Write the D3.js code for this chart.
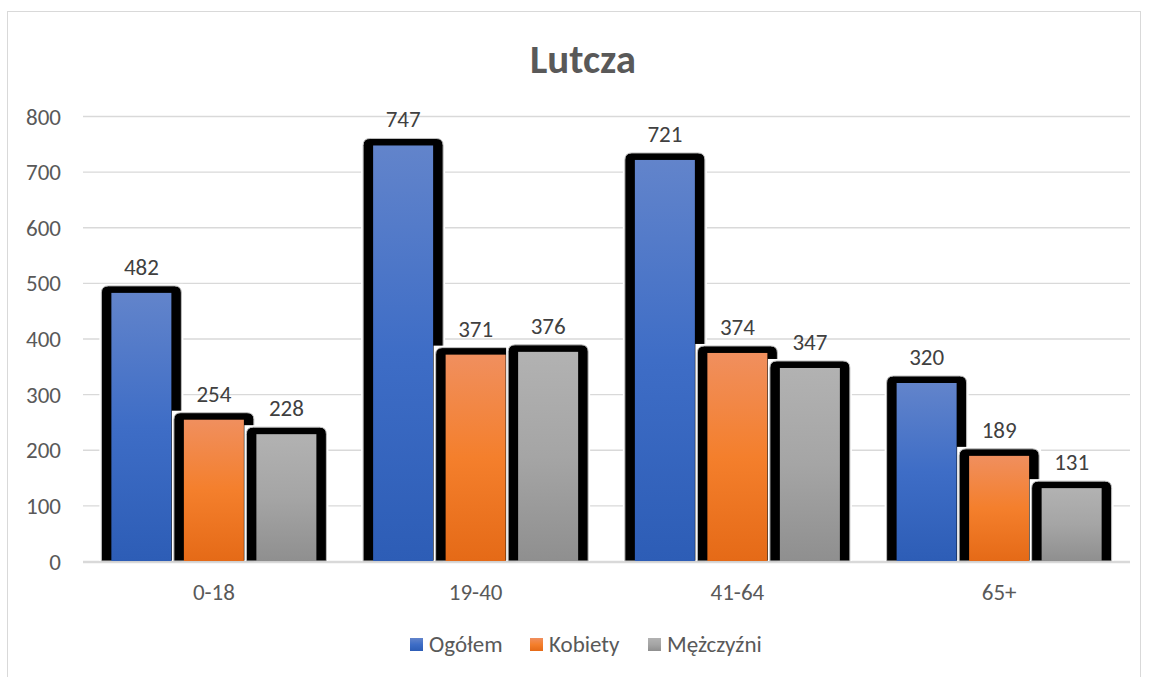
<!DOCTYPE html>
<html><head><meta charset="utf-8">
<script src="https://cdn.jsdelivr.net/npm/d3@7"></script>
<style>body{margin:0;background:#fff}svg{display:block}</style>
</head><body>
<svg id="c" width="1149" height="677"></svg>
<script>
const categories = ["0-18", "19-40", "41-64", "65+"];
const seriesNames = ["Ogółem", "Kobiety", "Mężczyźni"];
const ogolem = [482, 747, 721, 320];
const kobiety = [254, 371, 374, 189];
const mezczyzni = [228, 376, 347, 131];
const yTicks = [0, 100, 200, 300, 400, 500, 600, 700, 800];
const title = "Lutcza";

(function () {
const seriesValues = [ogolem, kobiety, mezczyzni];
const FONT = "Carlito, Lato, 'Open Sans', sans-serif";
const FS = 23;
const svg = d3.select("#c");
const defs = svg.append("defs");
const grads = [
  ["gBlue", "#6284cb", "#3e6dc6", "#2d5db6"],
  ["gOrange", "#f08f5e", "#f47f2c", "#e56a17"],
  ["gGray", "#b2b2b2", "#a5a5a5", "#8f8f8f"]
];
grads.forEach(([id, a, b, c]) => {
  const g = defs.append("linearGradient").attr("id", id).attr("x1", 0).attr("y1", 0).attr("x2", 0).attr("y2", 1);
  g.append("stop").attr("offset", "0%").attr("stop-color", a);
  g.append("stop").attr("offset", "50%").attr("stop-color", b);
  g.append("stop").attr("offset", "100%").attr("stop-color", c);
});

svg.append("rect").attr("x", 7.5).attr("y", 11.5).attr("width", 1133).attr("height", 700)
  .attr("fill", "#fff").attr("stroke", "#d9d9d9");

const pLeft = 83, pRight = 1130, pTop = 116, pBottom = 561;
const y = d3.scaleLinear().domain([0, 800]).range([pBottom, pTop]);
const x0 = d3.scaleBand().domain(categories).range([pLeft, pRight]).paddingInner(0.169).paddingOuter(0.0845);
const x1 = d3.scaleBand().domain(seriesNames).range([0, x0.bandwidth()]).padding(0);
const fillW = 60;

svg.append("g").selectAll("line").data(yTicks).join("line")
  .attr("x1", pLeft).attr("x2", pRight)
  .attr("y1", d => y(d) + 0.5).attr("y2", d => y(d) + 0.5)
  .attr("stroke", "#d9d9d9").attr("stroke-width", 1.3);

const yAxis = d3.axisLeft(y).tickValues(yTicks).tickSize(0).tickPadding(0);
const ya = svg.append("g").attr("transform", `translate(61,0)`).call(yAxis);
ya.select(".domain").remove();
ya.selectAll("text").attr("font-family", FONT).attr("font-size", FS).attr("fill", "#595959").attr("dy", "0.35em");

const xAxis = d3.axisBottom(x0).tickSize(0).tickPadding(0);
const xa = svg.append("g").attr("transform", `translate(0,${pBottom})`).call(xAxis);
xa.select(".domain").remove();
xa.selectAll("text").attr("font-family", FONT).attr("font-size", FS).attr("fill", "#595959").attr("y", 39).attr("dy", null);

categories.forEach((cat, ci) => {
  seriesNames.forEach((s, si) => {
    const v = seriesValues[si][ci];
    const cx = x0(cat) + x1(s) + x1.bandwidth() / 2;
    const fx = cx - fillW / 2;
    const fy = y(v);
    const g = svg.append("g");
    g.append("rect").attr("x", fx - 12).attr("y", fy - 9).attr("width", fillW + 24).attr("height", pBottom - fy + 9)
      .attr("fill", "#fff");
    const bx = fx - 10, by = fy - 7, bw = fillW + 20, r = 7;
    g.append("path")
      .attr("d", `M${bx},${pBottom} L${bx},${by + r} Q${bx},${by} ${bx + r},${by} L${bx + bw - r},${by} Q${bx + bw},${by} ${bx + bw},${by + r} L${bx + bw},${pBottom} Z`)
      .attr("fill", "#000").attr("stroke", "#bfbfbf").attr("stroke-width", 1);
    g.append("rect").attr("x", fx).attr("y", fy).attr("width", fillW).attr("height", pBottom - fy)
      .attr("fill", `url(#${grads[si][0]})`);
    g.append("text").attr("x", cx).attr("y", fy - 18).attr("text-anchor", "middle")
      .attr("font-family", FONT).attr("font-size", FS).attr("fill", "#404040").text(v);
  });
});

svg.append("line").attr("x1", pLeft).attr("x2", pRight).attr("y1", pBottom + 1.5).attr("y2", pBottom + 1.5)
  .attr("stroke", "#d9d9d9").attr("stroke-width", 1.3);

svg.append("text").attr("x", 583).attr("y", 73).attr("text-anchor", "middle")
  .attr("font-family", FONT).attr("font-size", 41).attr("font-weight", "bold").attr("fill", "#595959").text(title);

const legendX = [410, 530, 648];
const lg = svg.append("g");
seriesNames.forEach((s, i) => {
  lg.append("rect").attr("x", legendX[i]).attr("y", 638).attr("width", 13).attr("height", 13).attr("fill", `url(#${grads[i][0]})`);
  lg.append("text").attr("x", legendX[i] + 19).attr("y", 652)
    .attr("font-family", FONT).attr("font-size", FS).attr("fill", "#595959").text(s);
});
})();
</script>
</body></html>
